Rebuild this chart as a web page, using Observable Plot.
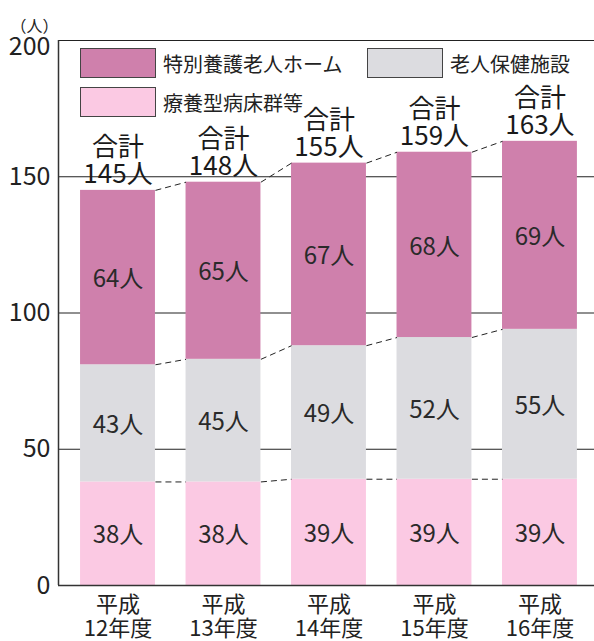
<!DOCTYPE html>
<html><head><meta charset="utf-8">
<script src="https://cdn.jsdelivr.net/npm/d3@7"></script>
<script src="https://cdn.jsdelivr.net/npm/@observablehq/plot@0.6"></script>
<style>
body{margin:0;background:#fff;font-family:"Noto Sans CJK JP",sans-serif;}
#wrap{position:relative;width:594px;height:641px;}
.lg{position:absolute;display:flex;align-items:center;font-size:20px;color:#222;}
.lg .box{width:74px;height:28px;border:1.5px solid #444;margin-right:7px;}
</style>
</head><body>
<div id="wrap"></div>
<script>
const years = ["平成\n12年度","平成\n13年度","平成\n14年度","平成\n15年度","平成\n16年度"];
const seriesNames = ["療養型病床群等","老人保健施設","特別養護老人ホーム"];
const ryoyo = [38,38,39,39,39];
const roken = [43,45,49,52,55];
const tokuyo = [64,65,67,68,69];
const totals = [145,148,155,159,163];
const yTicks = [0,50,100,150,200];
const colors = ["#fbc9e3","#dcdce0","#cf80ac"];

const hw = 0.355;
const xDomain = [-0.564, 4.517];
const values = [ryoyo, roken, tokuyo];

const segs = [];
years.forEach((yr, i) => {
  let base = 0;
  values.forEach((arr, s) => {
    segs.push({i, s, y1: base, y2: base + arr[i], v: arr[i]});
    base += arr[i];
  });
});
const links = [];
for (let s = 0; s < 3; s++) {
  for (let i = 0; i < years.length - 1; i++) {
    const a = segs.find(d => d.i === i && d.s === s).y2;
    const b = segs.find(d => d.i === i + 1 && d.s === s).y2;
    links.push({x1: i + hw, x2: i + 1 - hw, y1: a, y2: b});
  }
}
const totalData = totals.map((t, i) => ({i, t}));
const yMax = yTicks[yTicks.length - 1];

const chart = Plot.plot({
  width: 594, height: 641,
  marginLeft: 58, marginRight: 0, marginTop: 40, marginBottom: 56,
  style: {fontFamily: "'Noto Sans CJK JP', sans-serif", color: "#222", background: "#fff"},
  x: {type: "linear", domain: xDomain, axis: null},
  y: {domain: [0, yMax], axis: null},
  marks: [
    Plot.ruleY(yTicks.slice(1), {stroke: "#222", strokeWidth: 1.2}),
    Plot.rect(segs, {x1: d => d.i - hw, x2: d => d.i + hw, y1: "y1", y2: "y2", fill: d => colors[d.s]}),
    Plot.link(links, {x1: "x1", x2: "x2", y1: "y1", y2: "y2", stroke: "#222", strokeWidth: 1, strokeDasharray: "6,4"}),
    Plot.text(segs, {x: "i", y: d => (d.y1 + d.y2) / 2, text: d => d.v + "人", fontSize: 24, fill: "#2a2a2a", dy: 2}),
    Plot.text(totalData, {x: "i", y: "t", text: d => "合計\n" + d.t + "人", fontSize: 26, lineAnchor: "bottom", lineHeight: 1.04, dy: -7, fill: "#1a1a1a"}),
    Plot.ruleY([0], {stroke: "#333", strokeWidth: 1.5}),
    Plot.ruleX([xDomain[0]], {y1: 0, y2: yMax, stroke: "#333", strokeWidth: 1.5}),
    Plot.axisY({ticks: yTicks.slice(0, -1), tickSize: 0, tickPadding: 8, fontSize: 25, label: null}),
    Plot.axisY({ticks: [yMax], tickSize: 0, tickPadding: 8, fontSize: 25, label: null, dy: 6}),
    Plot.axisX({ticks: d3.range(years.length), tickFormat: i => years[i], tickSize: 0, tickPadding: 9, fontSize: 22, lineHeight: 1.1, label: null}),
    Plot.text(["（人）"], {frameAnchor: "top-left", dx: -24, dy: -20, fontSize: 16, textAnchor: "middle"})
  ]
});
const wrap = document.getElementById("wrap");
wrap.appendChild(chart);

const legendItems = [
  {name: seriesNames[2], color: colors[2], left: 80, top: 48},
  {name: seriesNames[1], color: colors[1], left: 367, top: 48},
  {name: seriesNames[0], color: colors[0], left: 80, top: 87}
];
legendItems.forEach(it => {
  const d = document.createElement("div");
  d.className = "lg";
  d.style.left = it.left + "px";
  d.style.top = it.top + "px";
  d.innerHTML = `<span class="box" style="background:${it.color}"></span><span>${it.name}</span>`;
  wrap.appendChild(d);
});
</script>
</body></html>
